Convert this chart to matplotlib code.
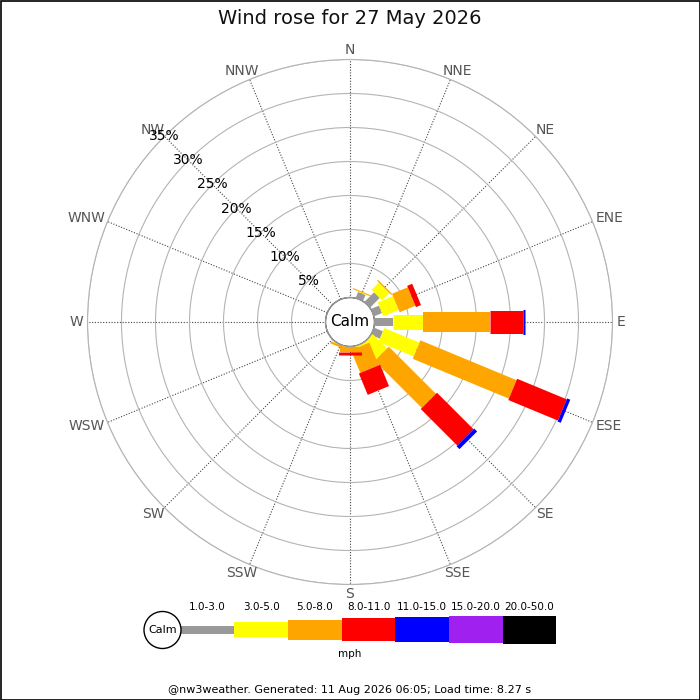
import matplotlib
matplotlib.use("Agg")
import matplotlib.pyplot as plt
import numpy as np

# directions (clockwise from N) and percent of time per speed band
dirs = ["N", "NNE", "NE", "ENE", "E", "ESE", "SE", "SSE",
        "S", "SSW", "SW", "WSW", "W", "WNW", "NW", "NNW"]
bands = ["1.0-3.0", "3.0-5.0", "5.0-8.0", "8.0-11.0", "11.0-15.0", "15.0-20.0", "20.0-50.0"]
colours = ["#999999", "#ffff00", "#ffa500", "#ff0000", "#0000ff", "#a020f0", "#000000"]

g1 = [0, 0.95, 2.0, 1.25, 2.7, 1.4, 0, 0, 0, 0, 0, 0, 0, 0, 0, 0]
g2 = [0, 0.1, 1.5, 2.45, 4.4, 5.6, 3.0, 0.3, 0.1, 0.1, 0, 0, 0, 0, 0, 0]
g3 = [0, 0.15, 0.2, 2.5, 9.9, 15.3, 9.8, 3.6, 0.7, 0.3, 0, 0, 0, 0, 0, 0]
g4 = [0, 0, 0, 0.8, 4.8, 7.9, 7.6, 3.4, 0.4, 0, 0, 0, 0, 0, 0, 0]
g5 = [0, 0, 0, 0, 0.3, 0.5, 0.6, 0, 0, 0, 0, 0, 0, 0, 0, 0]
g6 = [0] * 16
g7 = [0] * 16
rings = [5, 10, 15, 20, 25, 30, 35]

# bar thickness in pixels for each band (gets wider as speed rises)
bar_px = [8, 15, 20, 23, 25, 27, 28]
pt = 72 / 100.0

fig = plt.figure(figsize=(7, 7), dpi=100)
fig.patch.set_facecolor("white")

ax = fig.add_axes([0.125, 0.165, 0.75, 0.75], projection="polar")
ax.set_theta_zero_location("N")
ax.set_theta_direction(-1)
ax.set_rorigin(-3.6)
ax.set_ylim(0, 35)

ang = np.deg2rad(np.arange(16) * 22.5)
ax.set_xticks(ang)
ax.set_xticklabels([])
ax.set_yticks(rings)
ax.set_yticklabels([])
ax.xaxis.grid(True, linestyle=(0, (1, 1.5)), color="#444444", linewidth=0.8)
ax.yaxis.grid(True, linestyle="-", color="#b4b4b4", linewidth=0.8)
ax.spines["polar"].set_color("#b4b4b4")
ax.spines["polar"].set_linewidth(0.8)
ax.tick_params(length=0)

# stacked bars drawn as thick radial lines
data = [g1, g2, g3, g4, g5, g6, g7]
base = np.zeros(16)
for k in range(len(data)):
    vals = np.array(data[k], dtype=float)
    for i in range(16):
        if vals[i] > 0:
            ax.plot([ang[i], ang[i]], [base[i], base[i] + vals[i]],
                    color=colours[k], linewidth=bar_px[k] * pt,
                    solid_capstyle="butt", zorder=3 + k)
    base = base + vals

# calm circle
tt = np.linspace(0, 2 * np.pi, 200)
ax.plot(tt, np.zeros_like(tt), color="#999999", linewidth=1, zorder=10, clip_on=False)
ax.text(0.5, 0.5, "Calm", transform=ax.transAxes, ha="center", va="center",
        fontsize=11, color="black", zorder=11)

# compass labels: pushed outward by half their size so they sit outside the ring
renderer = fig.canvas.get_renderer()
for i, d in enumerate(dirs):
    tmp = fig.text(0, 0, d, fontsize=10)
    bb = tmp.get_window_extent(renderer)
    tmp.remove()
    dx = bb.width / 2 * np.sin(ang[i])
    dy = bb.height * 0.36 * np.cos(ang[i])
    ax.annotate(d, xy=(ang[i], 35.6), xytext=(dx, dy), textcoords="offset pixels",
                ha="center", va="center", fontsize=10, color="#555555",
                annotation_clip=False)

for r in rings:
    ax.text(np.deg2rad(315), r, f"{r}%", ha="center", va="center",
            fontsize=10, color="black", zorder=12)

fig.text(0.5, 1 - 18 / 700, "Wind rose for 27 May 2026", ha="center", va="center",
         fontsize=14, color="#111111")

# legend strip in pixel coords
lg = fig.add_axes([0, 0, 1, 1], facecolor="none")
lg.set_xlim(0, 700)
lg.set_ylim(700, 0)
lg.axis("off")
seg_w = 53.7
x0 = 180.5
for k in range(len(bands)):
    lg.barh(629.5, seg_w, height=bar_px[k], left=x0 + k * seg_w,
            color=colours[k], edgecolor="none")
    lg.text(x0 + (k + 0.5) * seg_w, 607, bands[k], ha="center", va="center",
            fontsize=7.5, color="black")
calm = plt.Circle((162.5, 630), 18.5, facecolor="white", edgecolor="black", linewidth=1)
lg.add_patch(calm)
lg.text(162.5, 630, "Calm", ha="center", va="center", fontsize=8)
lg.text(350, 654, "mph", ha="center", va="center", fontsize=7.5)
lg.text(350, 690, "@nw3weather. Generated: 11 Aug 2026 06:05; Load time: 8.27 s",
        ha="center", va="center", fontsize=8)
lg.add_patch(plt.Rectangle((0.5, 0.5), 699, 699, fill=False, edgecolor="black",
                           linewidth=1.2, clip_on=False))

fig.savefig("out.png", dpi=100)
